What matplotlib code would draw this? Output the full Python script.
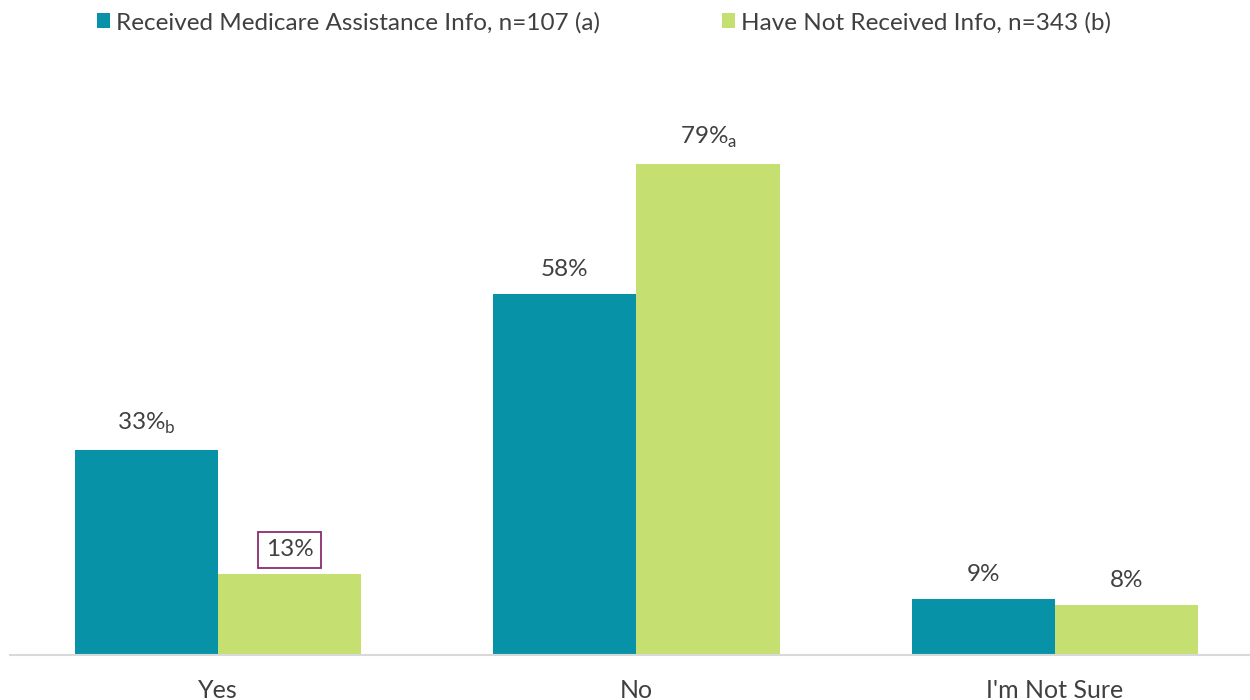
import numpy as np
import matplotlib.pyplot as plt

categories = ['Yes', 'No', "I'm Not Sure"]
received = [33, 58, 9]
not_received = [13, 79, 8]
received_sig = ['b', '', '']
not_received_sig = ['', 'a', '']
boxed = [(1, 0)]  # (series, category) labels drawn with a frame
series_names = ['Received Medicare Assistance Info, n=107 (a)',
                'Have Not Received Info, n=343 (b)']

plt.rcParams['font.family'] = ['Lato', 'DejaVu Sans']
teal = '#0892A8'
green = '#C5DF71'
txt = '#404040'

fig = plt.figure(figsize=(12.5, 7), dpi=100)
ax = fig.add_axes([0.008, 0.0643, 0.992, 0.807])

x = np.arange(len(categories))
w = 0.342
b1 = ax.bar(x - w / 2, received, w, color=teal, label=series_names[0])
b2 = ax.bar(x + w / 2, not_received, w, color=green, label=series_names[1])


def label(bars, vals, sigs, s):
    for i, (rect, v, sg) in enumerate(zip(bars, vals, sigs)):
        t = f'{v}%'
        if sg:
            t += r'$_\mathregular{' + sg + '}$'
        kw = {}
        if (s, i) in boxed:
            kw['bbox'] = dict(boxstyle='square,pad=0.3', fc='white', ec='#8B2C6E', lw=1.3)
        ax.annotate(t, (rect.get_x() + rect.get_width() / 2, rect.get_height()),
                    xytext=(0, 10), textcoords='offset points', ha='center', va='bottom',
                    fontsize=17.5, color=txt, **kw)


label(b1, received, received_sig, 0)
label(b2, not_received, not_received_sig, 1)

ax.set_xlim(-0.497, 2.466)
ax.set_ylim(0, 90.8)
ax.set_xticks(x)
ax.set_xticklabels(categories, fontsize=18, color=txt)
ax.tick_params(axis='x', length=0, pad=17)
ax.set_yticks([])
for sp in ['top', 'right', 'left']:
    ax.spines[sp].set_visible(False)
ax.spines['bottom'].set_color('#D9D9D9')
ax.spines['bottom'].set_linewidth(1.5)

fig.legend(loc='center', bbox_to_anchor=(0.483, 0.968), ncol=2, frameon=False,
           fontsize=17.5, handlelength=0.55, handleheight=0.55, handletextpad=0.25,
           columnspacing=5.0, labelcolor=txt)

plt.savefig('out.png', dpi=100)
